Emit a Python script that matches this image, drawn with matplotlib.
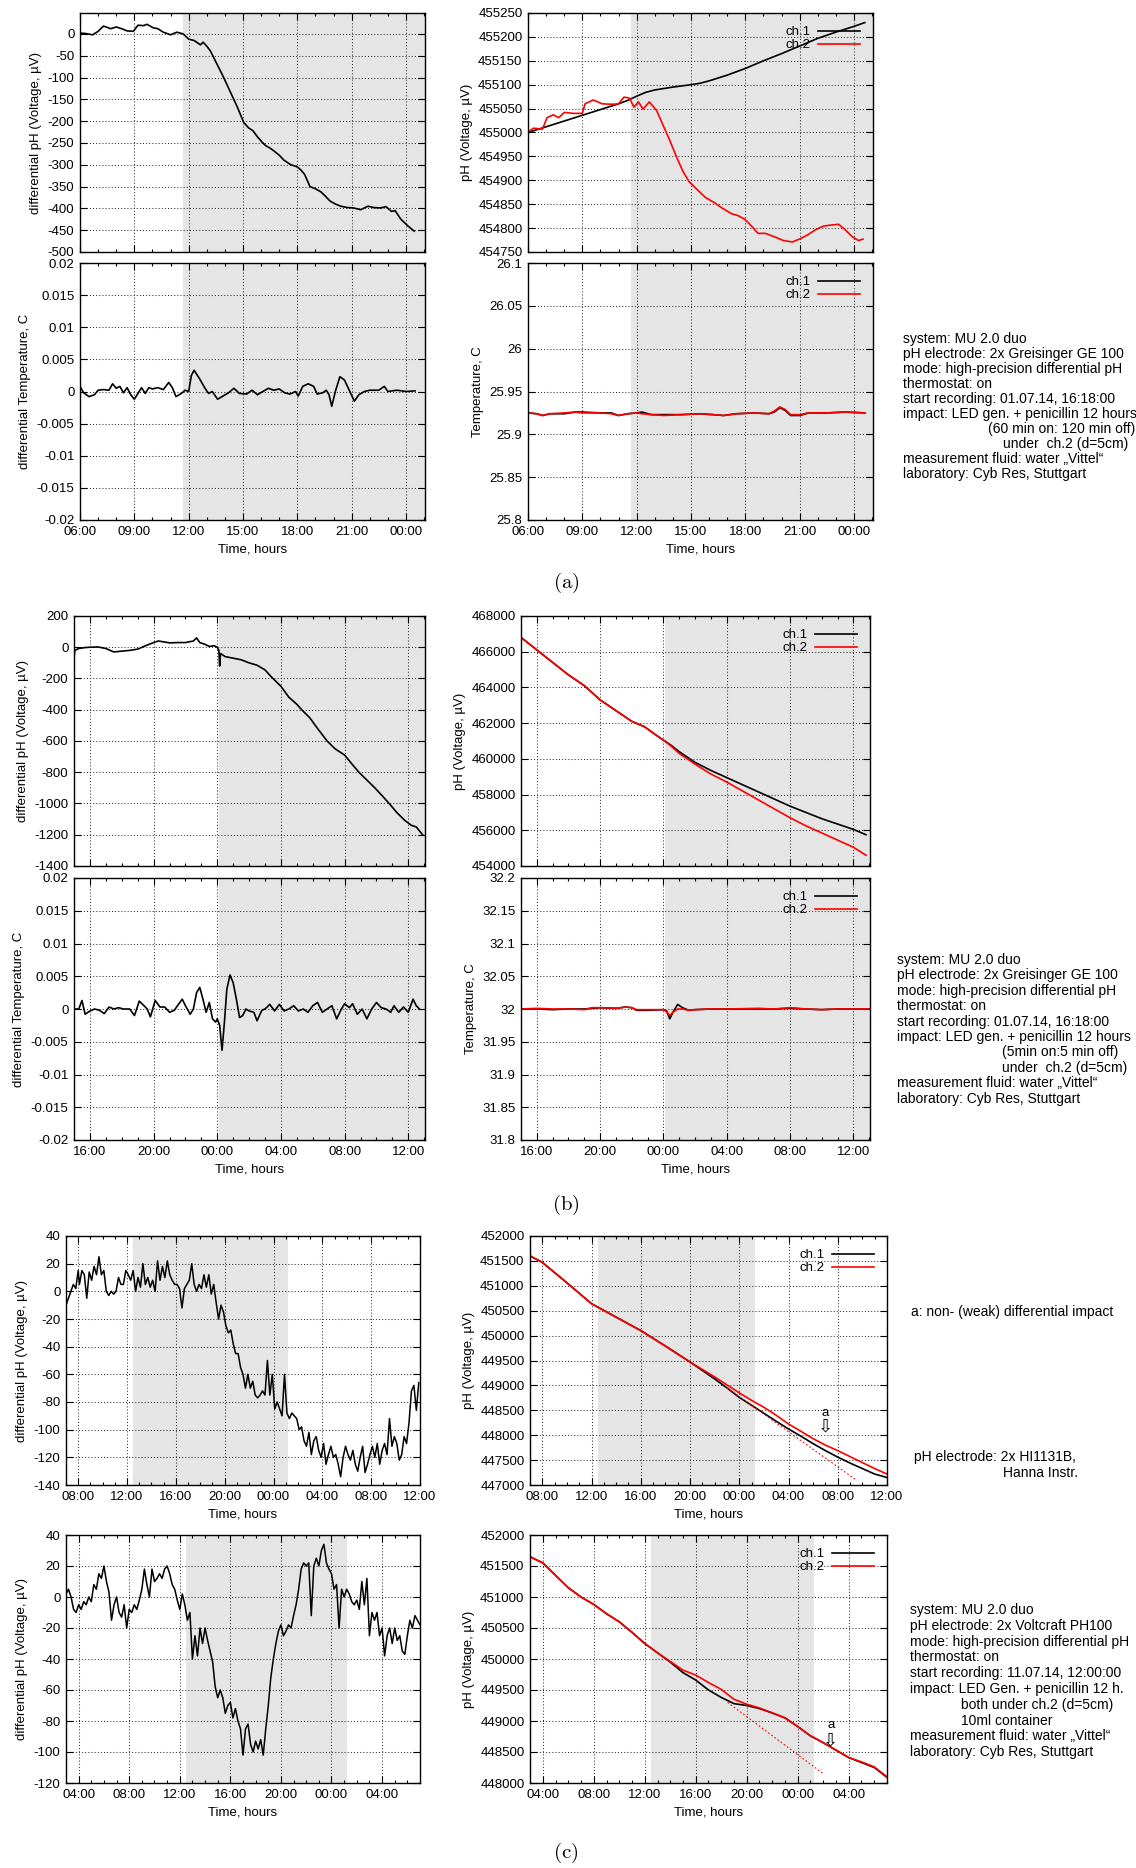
import numpy as np
import matplotlib
matplotlib.use('Agg')
import matplotlib.pyplot as plt
from matplotlib.ticker import MultipleLocator, FuncFormatter

plt.rcParams['font.family'] = ['Liberation Sans', 'DejaVu Sans']
plt.rcParams['axes.unicode_minus'] = False
plt.rcParams['mathtext.fontset'] = 'cm'

W, H = 1136, 1868
FS = 9.5      # ticks, axis labels, legends
FT = 10       # side notes
SHADE = '#e5e5e5'

#---------------------------------------------------------------------
# (a)  time in hours from 00:00 of day 1
a_t_dph = [6.0, 6.3, 6.7, 7.0, 7.3, 7.7, 8.0, 8.3, 8.6, 8.95, 9.2, 9.5, 9.7, 10.05, 10.3,
           10.6, 11.0, 11.35, 11.7, 12.0, 12.3, 12.65, 12.8, 13.0, 13.2, 13.55, 13.9, 14.3,
           14.67, 15.04, 15.3, 15.55, 15.8, 16.05, 16.25, 16.5, 16.7, 17.0, 17.25, 17.6, 18.0,
           18.2, 18.4, 18.7, 19.0, 19.3, 19.55, 19.8, 20.1, 20.4, 20.75, 21.1, 21.5, 21.9, 22.2,
           22.6, 22.9, 23.2, 23.4, 23.7, 24.1, 24.45]
a_dph = [2, 1, -2, 6, 18, 12, 16, 12, 7, 6, 20, 19, 22, 14, 12,
         4, -2, 4, 0, -12, -15, -25, -19, -28, -39, -68, -97, -133,
         -166, -203, -215, -222, -236, -248, -256, -262, -268, -278, -289, -299, -305,
         -312, -322, -350, -355, -362, -372, -383, -390, -395, -398, -399, -403, -395, -398,
         -399, -396, -407, -405, -424, -440, -452]

a_t_dT = [6.0, 6.2, 6.5, 6.8, 7.0, 7.3, 7.6, 7.8, 8.0, 8.2, 8.4, 8.6, 8.8, 9.0, 9.2,
          9.4, 9.6, 9.8, 10.0, 10.3, 10.6, 10.9, 11.1, 11.3, 11.6, 11.8, 12.0, 12.15, 12.3,
          12.6, 12.9, 13.1, 13.3, 13.6, 13.9, 14.2, 14.5, 14.8, 15.2, 15.5, 15.8, 16.1, 16.4,
          16.7, 17.0, 17.3, 17.6, 17.9, 18.05, 18.3, 18.6, 18.9, 19.1, 19.4, 19.6, 19.75,
          19.9, 20.1, 20.35, 20.6, 20.9, 21.15, 21.4, 21.7, 22.0, 22.5, 22.8, 23.0, 23.5,
          24.0, 24.5]
a_dT = [0.0008, -0.0002, -0.0008, -0.0005, 0.0002, 0.0003, 0.0002, 0.0012, 0.0005, 0.0008,
        -0.0002, 0.0006, -0.0005, -0.0012, -0.0003, 0.0006, -0.0003, 0.0006, 0.0004, 0.0006,
        0.0003, 0.0014, 0.0006, -0.0008, -0.0003, 0.0002, 0.0, 0.0025, 0.0033, 0.002,
        0.0005, -0.0003, 0.0, -0.0012, -0.0007, -0.0002, 0.0005, -0.0003, -0.0004, 0.0002,
        -0.0005, 0.0, 0.0005, 0.0002, 0.0004, -0.0002, -0.0004, 0.0, -0.0007, 0.0008,
        0.0012, 0.0008, -0.0004, -0.0002, 0.0002, -0.0005, -0.0023, 0.0, 0.0023, 0.0018,
        0.0, -0.0015, -0.0005, 0.0, 0.0002, 0.0002, 0.0008, 0.0, 0.0002, 0.0, 0.0001]

a_t_ph1 = [6.0, 7.0, 8.0, 9.0, 10.0, 11.0, 11.5, 12.0, 12.5, 13.0, 14.0, 15.0, 15.5, 16.0,
           17.0, 18.0, 19.0, 20.0, 21.0, 22.0, 23.0, 24.0, 24.6]
a_ph1 = [455000, 455012, 455024, 455036, 455048, 455060, 455067, 455076, 455084, 455089,
         455095, 455100, 455103, 455108, 455120, 455134, 455150, 455165, 455181, 455197,
         455210, 455222, 455230]
a_t_ph2 = [6.0, 6.3, 6.8, 7.05, 7.4, 7.7, 8.0, 8.5, 9.0, 9.15, 9.6, 10.1, 10.6, 11.0, 11.3,
           11.6, 11.85, 12.1, 12.35, 12.7, 13.1, 13.45, 13.8, 14.2, 14.55, 14.9, 15.3, 15.8,
           16.3, 16.75, 17.25, 17.6, 17.95, 18.35, 18.7, 19.1, 19.6, 20.1, 20.6, 21.05, 21.45,
           21.9, 22.3, 22.65, 23.15, 23.5, 23.9, 24.25, 24.5]
a_ph2 = [455001, 455009, 455007, 455031, 455037, 455031, 455042, 455040, 455040, 455060,
         455068, 455060, 455059, 455060, 455074, 455072, 455053, 455064, 455049, 455064,
         455046, 455016, 454986, 454949, 454919, 454897, 454882, 454864, 454853, 454841,
         454830, 454826, 454819, 454804, 454789, 454789, 454782, 454774, 454771, 454778,
         454786, 454797, 454804, 454806, 454808, 454797, 454782, 454774, 454777]

a_t_T = [6.0, 6.5, 6.8, 7.2, 8.0, 8.6, 9.0, 10.0, 10.6, 11.0, 11.5, 12.0, 12.3, 12.8, 13.5,
         14.5, 15.5, 16.2, 16.8, 17.5, 18.5, 19.3, 19.6, 19.9, 20.2, 20.5, 21.0, 21.5, 22.5,
         23.5, 24.6]
a_T1 = [25.925, 25.924, 25.922, 25.924, 25.924, 25.926, 25.926, 25.925, 25.925, 25.922,
        25.924, 25.925, 25.926, 25.923, 25.923, 25.923, 25.924, 25.923, 25.922, 25.924,
        25.925, 25.924, 25.926, 25.931, 25.928, 25.922, 25.922, 25.925, 25.925, 25.926, 25.925]
a_T2 = [25.925, 25.924, 25.922, 25.924, 25.925, 25.926, 25.925, 25.925, 25.924, 25.922,
        25.924, 25.925, 25.924, 25.923, 25.922, 25.923, 25.924, 25.923, 25.922, 25.924,
        25.925, 25.924, 25.927, 25.932, 25.929, 25.923, 25.923, 25.925, 25.925, 25.926, 25.925]

#---------------------------------------------------------------------
# (b)
b_t_dph = [15.0, 15.05, 15.3, 15.7, 16.0, 16.5, 17.0, 17.5, 18.0, 18.5, 19.0, 19.5, 20.0,
           20.3, 20.6, 21.0, 21.5, 22.0, 22.5, 22.7, 22.9, 23.2, 23.5, 23.8, 24.0, 24.1,
           24.15, 24.2, 24.5, 25.0, 25.5, 26.0, 26.5, 27.0, 27.4, 28.0, 28.5, 29.0, 29.3,
           29.8, 30.3, 30.9, 31.4, 32.0, 32.4, 32.9, 33.4, 33.9, 34.4, 34.8, 35.3, 35.8,
           36.2, 36.5, 36.9]
b_dph = [-70, -20, -8, -2, 0, 2, -8, -30, -25, -20, -12, 10, 30,
         40, 35, 28, 30, 30, 40, 60, 30, 20, 5, 10, 0, -20,
         -120, -40, -60, -70, -80, -100, -115, -145, -190, -250, -320, -365, -400,
         -450, -520, -600, -650, -690, -740, -800, -850, -900, -955, -1000, -1060, -1110,
         -1140, -1150, -1200]

b_t_dT = [15.0, 15.3, 15.5, 15.7, 16.0, 16.3, 16.6, 16.9, 17.2, 17.5, 17.8, 18.1, 18.5,
          18.8, 19.1, 19.4, 19.6, 19.8, 20.1, 20.4, 20.7, 21.0, 21.3, 21.5, 21.8, 22.0,
          22.3, 22.5, 22.7, 22.9, 23.1, 23.3, 23.5, 23.7, 23.9, 24.0, 24.15, 24.3, 24.45,
          24.6, 24.8, 25.0, 25.2, 25.4, 25.6, 25.8, 26.0, 26.3, 26.5, 26.8, 27.0, 27.3,
          27.6, 27.9, 28.2, 28.5, 28.8, 29.1, 29.4, 29.7, 30.0, 30.3, 30.6, 30.9, 31.2,
          31.5, 31.8, 32.0, 32.3, 32.5, 32.8, 33.1, 33.4, 33.7, 34.0, 34.3, 34.6, 34.9,
          35.1, 35.4, 35.7, 36.0, 36.3, 36.5, 36.7]
b_dT = [0.0, 0.0, 0.0013, -0.0008, -0.0003, 0.0, -0.0002, -0.0007, 0.0003, 0.0, 0.0002, 0.0,
        0.0, -0.001, 0.0012, 0.0005, 0.0, -0.0012, 0.0013, 0.0003, 0.0003, -0.0005, -0.0002,
        0.0005, 0.0015, 0.0005, -0.0008, 0.0, 0.0025, 0.0033, 0.0015, -0.0005, 0.001,
        -0.0015, -0.002, -0.0015, -0.0025, -0.0063, -0.002, 0.003, 0.0052, 0.004, 0.0015,
        -0.0013, -0.001, 0.0, -0.0003, -0.0005, -0.0018, -0.0002, 0.0, 0.0007, -0.0003,
        0.0007, -0.0003, 0.0, 0.0005, -0.0003, 0.0, -0.0005, 0.0005, 0.001, -0.0005, 0.0,
        0.0005, -0.0015, 0.0, 0.0008, 0.0002, 0.0008, -0.0008, 0.0, -0.0015, 0.0, 0.001,
        0.0002, 0.0, -0.0005, 0.0005, -0.0005, 0.0003, -0.0005, 0.0015, 0.0005, 0.0]

b_t_ph = [15.0, 16.0, 17.0, 18.0, 19.0, 20.0, 21.0, 22.0, 22.8, 23.5, 24.0, 24.5, 25.0,
          26.0, 27.0, 28.0, 29.0, 30.0, 31.0, 32.0, 33.0, 34.0, 35.0, 36.0, 36.8]
b_ph1 = [466800, 466100, 465400, 464700, 464100, 463300, 462700, 462100, 461800, 461350,
         461050, 460750, 460400, 459800, 459350, 458950, 458550, 458150, 457750, 457350,
         457000, 456650, 456350, 456050, 455750]
b_ph2 = [466800, 466100, 465400, 464700, 464100, 463300, 462700, 462100, 461800, 461350,
         461050, 460700, 460300, 459700, 459150, 458700, 458200, 457700, 457200, 456700,
         456250, 455850, 455450, 455050, 454600]

b_t_T = [15.0, 16.0, 17.0, 18.0, 19.0, 19.5, 20.0, 21.0, 21.6, 22.0, 22.3, 23.0, 24.0, 24.2,
         24.4, 24.6, 24.9, 25.2, 25.6, 26.0, 27.0, 28.0, 30.0, 31.0, 32.0, 33.0, 34.0, 35.0,
         36.0, 37.0]
b_T1 = [32.0, 32.0, 31.999, 32.0, 32.0, 32.001, 32.002, 32.001, 32.003, 32.002, 31.998,
        31.998, 31.999, 31.997, 31.985, 31.995, 32.007, 32.002, 31.998, 31.999, 32.0, 32.0,
        32.0, 32.0, 32.001, 32.0, 31.999, 32.0, 32.0, 32.0]
b_T2 = [32.0, 32.001, 32.0, 32.0, 31.999, 32.002, 32.002, 32.001, 32.003, 32.002, 31.999,
        31.999, 31.999, 31.996, 31.99, 31.995, 32.0, 32.0, 31.998, 31.999, 32.0, 32.0,
        32.001, 32.0, 32.002, 32.0, 31.999, 32.0, 32.0, 32.0]

#---------------------------------------------------------------------
# (c) upper run: HI1131B electrodes
c1_t = [7.0, 7.2, 7.4, 7.6, 7.8, 8.0,
        8.1, 8.3, 8.5, 8.7, 8.9, 9.1, 9.3, 9.5, 9.7, 9.9,
        10.1, 10.3, 10.5, 10.7, 10.9, 11.1, 11.3, 11.5, 11.7, 11.9,
        12.1, 12.3, 12.5, 12.7, 12.9, 13.1, 13.3, 13.5, 13.7, 13.9,
        14.1, 14.3, 14.5, 14.7, 14.9, 15.1, 15.3, 15.5, 15.7, 15.9,
        16.1, 16.3, 16.5, 16.7, 16.9, 17.1, 17.3, 17.5, 17.7, 17.9,
        18.1, 18.3, 18.5, 18.7, 18.9, 19.1, 19.3, 19.5, 19.7, 19.9,
        20.1, 20.3, 20.5, 20.7, 20.9, 21.1, 21.3, 21.5, 21.7, 21.9,
        22.1, 22.3, 22.5, 22.7, 22.9, 23.1, 23.3, 23.5, 23.7, 23.9,
        24.1, 24.3, 24.5, 24.7, 24.9, 25.1, 25.3, 25.5, 25.7, 25.9,
        26.1, 26.3, 26.5, 26.7, 26.9, 27.1, 27.3, 27.5, 27.7, 27.9,
        28.1, 28.3, 28.5, 28.7, 28.9, 29.1, 29.3, 29.5, 29.7, 29.9,
        30.1, 30.3, 30.5, 30.7, 30.9, 31.1, 31.3, 31.5, 31.7, 31.9,
        32.1, 32.3, 32.5, 32.7, 32.9, 33.1, 33.3, 33.5, 33.7, 33.9,
        34.1, 34.3, 34.5, 34.7, 34.9, 35.1, 35.3, 35.5, 35.7, 35.9]
c1_dph = [-10, -5, 0, 5, 2, 15,
          5, 15, 12, -5, 14, 8, 18, 12, 25, 12,
          15, 0, -3, 0, -2, 0, 10, 5, 5, 15,
          12, 8, 15, 0, 10, 3, 20, 5, 10, 3,
          8, 0, 22, 8, 18, 10, 22, 12, 8, 5,
          5, 2, -12, 2, 5, 8, 20, 5, 0, 5,
          2, 12, 3, 12, -2, 5, -8, -20, -10, -15,
          -25, -30, -28, -38, -45, -45, -55, -60, -70, -60,
          -70, -65, -75, -77, -75, -72, -75, -50, -75, -60,
          -85, -80, -85, -90, -60, -88, -92, -88, -90, -92,
          -100, -98, -108, -112, -102, -118, -108, -105, -115, -120,
          -110, -125, -118, -112, -120, -118, -125, -134, -120, -112,
          -118, -122, -115, -125, -130, -120, -112, -131, -125, -118,
          -112, -120, -110, -125, -115, -110, -118, -92, -112, -105,
          -110, -122, -118, -105, -110, -95, -72, -68, -86, -66]

c3_t = [7.0, 8.0, 10.0, 12.0, 14.0, 16.0, 18.0, 20.0, 21.0, 22.0, 23.0, 24.0, 25.0, 26.0,
        27.0, 28.0, 29.0, 30.0, 31.0, 32.0, 33.0, 34.0, 35.0, 36.0]
c3_ph1 = [451600, 451470, 451060, 450640, 450370, 450100, 449790, 449470, 449300, 449130,
          448950, 448760, 448600, 448440, 448280, 448125, 447980, 447830, 447690, 447560,
          447440, 447330, 447220, 447150]
c3_ph2 = [451600, 451470, 451060, 450640, 450370, 450100, 449790, 449470, 449320, 449170,
          449010, 448850, 448700, 448560, 448400, 448225, 448080, 447930, 447800, 447690,
          447570, 447450, 447330, 447220]
c3_fit_t = [23.0, 33.5]
c3_fit = [448950, 447100]
c3_mark = (31.0, 448440, 448170)   # time, 'a' label, arrow

# (c) lower run: Voltcraft PH100 electrodes
c2_t = [3.0, 3.2, 3.4, 3.6, 3.8, 4.0, 4.2, 4.4, 4.6, 4.8,
        5.0, 5.2, 5.4, 5.6, 5.8, 6.0, 6.2, 6.4, 6.6, 6.8,
        7.0, 7.2, 7.4, 7.6, 7.8, 8.0, 8.2, 8.4, 8.6, 8.8,
        9.0, 9.2, 9.4, 9.6, 9.8, 10.0, 10.2, 10.4, 10.6, 10.8,
        11.0, 11.2, 11.4, 11.6, 11.8, 12.0, 12.2, 12.4, 12.6, 12.8,
        13.0, 13.2, 13.4, 13.6, 13.8, 14.0, 14.2, 14.4, 14.6, 14.8,
        15.0, 15.2, 15.4, 15.6, 15.8, 16.0, 16.2, 16.4, 16.6, 16.8,
        17.0, 17.2, 17.4, 17.6, 17.8, 18.0, 18.2, 18.4, 18.6, 18.8,
        19.0, 19.2, 19.4, 19.6, 19.8, 20.0, 20.2, 20.4, 20.6, 20.8,
        21.0, 21.2, 21.4, 21.6, 21.8, 22.0, 22.2, 22.4, 22.6, 22.8,
        23.0, 23.2, 23.4, 23.6, 23.8, 24.0, 24.2, 24.4, 24.6, 24.8,
        25.0, 25.2, 25.4, 25.6, 25.8, 26.0, 26.2, 26.4, 26.6, 26.8,
        27.0, 27.2, 27.4, 27.6, 27.8, 28.0, 28.2, 28.4, 28.6, 28.8,
        29.0, 29.2, 29.4, 29.6, 29.8, 30.0, 30.2, 30.4, 30.6, 30.8,
        31.0]
c2_dph = [2, 5, 0, -8, -10, -5, -8, -3, -5, 0,
          -3, 8, 5, 15, 12, 20, 10, 3, -15, -5,
          0, -10, -13, -5, -20, -8, -10, -5, -8, -2,
          5, 18, 8, 0, 18, 10, 12, 15, 12, 18,
          20, 15, 8, 5, -2, -8, 2, -5, -15, -10,
          -40, -25, -38, -20, -30, -20, -28, -35, -42, -58,
          -65, -60, -65, -75, -70, -68, -78, -72, -80, -85,
          -102, -85, -82, -95, -100, -93, -98, -92, -102, -85,
          -70, -52, -40, -30, -22, -18, -25, -22, -18, -20,
          -12, -5, 5, 18, 22, 20, 22, -12, 20, 25,
          20, 30, 34, 22, 18, 15, 5, 8, -20, 5,
          0, 5, 2, -3, -5, -2, -8, 10, -5, 12,
          -25, -10, -15, -10, -25, -20, -38, -25, -20, -30,
          -20, -28, -25, -35, -37, -25, -15, -20, -12, -15,
          -18]

c4_t = [3.0, 4.0, 5.0, 6.0, 7.0, 8.0, 9.0, 10.0, 11.0, 12.0, 13.0, 14.0, 15.0, 16.0, 17.0,
        18.0, 19.0, 20.0, 21.0, 22.0, 23.0, 24.0, 25.0, 26.0, 27.0, 28.0, 29.0, 30.0, 31.0]
c4_ph1 = [451650, 451550, 451350, 451150, 451000, 450880, 450730, 450600, 450430, 450250,
          450100, 449950, 449780, 449660, 449500, 449380, 449280, 449250, 449200, 449130,
          449050, 448910, 448760, 448650, 448530, 448410, 448330, 448250, 448090]
c4_ph2 = [451650, 451550, 451350, 451150, 451000, 450880, 450730, 450600, 450430, 450250,
          450100, 449960, 449820, 449740, 449620, 449510, 449350, 449270, 449210, 449130,
          449050, 448910, 448760, 448650, 448530, 448410, 448340, 448260, 448100]
c4_fit_t = [18.5, 26.0]
c4_fit = [449300, 448150]
c4_mark = (26.6, 448930, 448680)

#---------------------------------------------------------------------
txt_a = [("system: MU 2.0 duo", 0),
         ("pH electrode: 2x Greisinger GE 100", 0),
         ("mode: high-precision differential pH", 0),
         ("thermostat: on", 0),
         ("start recording: 01.07.14, 16:18:00", 0),
         ("impact: LED gen. + penicillin 12 hours", 0),
         ("(60 min on: 120 min off)", 85),
         ("under  ch.2 (d=5cm)", 100),
         ("measurement fluid: water \u201eVittel\u201c", 0),
         ("laboratory: Cyb Res, Stuttgart", 0)]
txt_b = [("system: MU 2.0 duo", 0),
         ("pH electrode: 2x Greisinger GE 100", 0),
         ("mode: high-precision differential pH", 0),
         ("thermostat: on", 0),
         ("start recording: 01.07.14, 16:18:00", 0),
         ("impact: LED gen. + penicillin 12 hours", 0),
         ("(5min on:5 min off)", 105),
         ("under  ch.2 (d=5cm)", 105),
         ("measurement fluid: water \u201eVittel\u201c", 0),
         ("laboratory: Cyb Res, Stuttgart", 0)]
txt_c = [("system: MU 2.0 duo", 0),
         ("pH electrode: 2x Voltcraft PH100", 0),
         ("mode: high-precision differential pH", 0),
         ("thermostat: on", 0),
         ("start recording: 11.07.14, 12:00:00", 0),
         ("impact: LED Gen. + penicillin 12 h.", 0),
         ("both under ch.2 (d=5cm)", 51),
         ("10ml container", 51),
         ("measurement fluid: water \u201eVittel\u201c", 0),
         ("laboratory: Cyb Res, Stuttgart", 0)]


def box(l, t, r, b):
    return [l / W, 1 - b / H, (r - l) / W, (b - t) / H]


def hours_fmt(v, pos):
    return '%02d:00' % (int(round(v)) % 24)


def num_fmt(v, pos):
    return '%g' % (round(v, 8) + 0.0)


def setup(ax, xlim, xstep, ylim, ystep, shade, xlabels=True):
    ax.axvspan(shade[0], shade[1], color=SHADE, lw=0, zorder=0)
    ax.set_xlim(xlim)
    ax.set_ylim(ylim)
    ax.xaxis.set_major_locator(MultipleLocator(xstep))
    ax.xaxis.set_minor_locator(MultipleLocator(1))
    ax.yaxis.set_major_locator(MultipleLocator(ystep))
    ax.xaxis.set_major_formatter(FuncFormatter(hours_fmt))
    ax.yaxis.set_major_formatter(FuncFormatter(num_fmt))
    ax.tick_params(which='both', direction='in', top=True, right=True, labelsize=FS)
    ax.tick_params(which='major', length=5, width=0.8, pad=4)
    ax.tick_params(which='minor', length=2.5, width=0.8)
    ax.grid(True, which='major', color='#333333', linestyle=(0, (1, 2)), lw=0.75)
    ax.set_axisbelow(True)
    for s in ax.spines.values():
        s.set_linewidth(1.0)
    if xlabels:
        ax.set_xlabel('Time, hours', fontsize=FS, labelpad=4)
    else:
        ax.tick_params(labelbottom=False)


def two_ch(ax, t1, y1, t2, y2):
    ax.plot(t1, y1, color='black', lw=1.2, label='ch.1')
    ax.plot(t2, y2, color='red', lw=1.2, label='ch.2')
    ax.legend(loc='upper right', frameon=False, markerfirst=False, fontsize=FS,
              handlelength=3.2, handletextpad=0.5, labelspacing=0.05, borderaxespad=0.6)


def text_block(x, y0, dy, lines):
    for i, (s, ind) in enumerate(lines):
        fig.text((x + ind) / W, 1 - (y0 + i * dy) / H, s, fontsize=FT, va='center', ha='left')


def mark(ax, m):
    ax.text(m[0], m[1], 'a', fontsize=FS, ha='center', va='center')
    ax.text(m[0], m[2], '\u21e9', fontsize=13, ha='center', va='center',
            family='DejaVu Sans')


fig = plt.figure(figsize=(W / 100, H / 100), dpi=100)

#----- (a) -----
ax = fig.add_axes(box(80, 13, 425, 252))
setup(ax, (6, 25.05), 3, (-500, 48), 50, (11.7, 25.05), xlabels=False)
ax.plot(a_t_dph, a_dph, color='black', lw=1.2)
ax.set_ylabel(r'differential pH (Voltage, µV)', fontsize=FS)

ax = fig.add_axes(box(80, 263, 425, 520))
setup(ax, (6, 25.05), 3, (-0.02, 0.02), 0.005, (11.7, 25.05))
ax.plot(a_t_dT, a_dT, color='black', lw=1.2)
ax.set_ylabel('differential Temperature, C', fontsize=FS)

ax = fig.add_axes(box(528, 13, 873, 252))
setup(ax, (6, 25.05), 3, (454750, 455250), 50, (11.7, 25.05), xlabels=False)
two_ch(ax, a_t_ph1, a_ph1, a_t_ph2, a_ph2)
ax.set_ylabel(r'pH (Voltage, µV)', fontsize=FS)

ax = fig.add_axes(box(528, 263, 873, 520))
setup(ax, (6, 25.05), 3, (25.8, 26.1), 0.05, (11.7, 25.05))
two_ch(ax, a_t_T, a_T1, a_t_T, a_T2)
ax.set_ylabel('Temperature, C', fontsize=FS)

text_block(903, 339, 15.0, txt_a)
fig.text(566 / W, 1 - 583 / H, r'$(\mathrm{a})$', fontsize=15, ha='center', va='center')

#----- (b) -----
ax = fig.add_axes(box(74, 616, 425, 866))
setup(ax, (15, 37.05), 4, (-1400, 200), 200, (24.1, 37.05), xlabels=False)
ax.plot(b_t_dph, b_dph, color='black', lw=1.2)
ax.set_ylabel(r'differential pH (Voltage, µV)', fontsize=FS)

ax = fig.add_axes(box(74, 878, 425, 1140))
setup(ax, (15, 37.05), 4, (-0.02, 0.02), 0.005, (24.1, 37.05))
ax.plot(b_t_dT, b_dT, color='black', lw=1.2)
ax.set_ylabel('differential Temperature, C', fontsize=FS)

ax = fig.add_axes(box(521, 616, 870, 866))
setup(ax, (15, 37.05), 4, (454000, 468000), 2000, (24.1, 37.05), xlabels=False)
two_ch(ax, b_t_ph, b_ph1, b_t_ph, b_ph2)
ax.set_ylabel(r'pH (Voltage, µV)', fontsize=FS)

ax = fig.add_axes(box(521, 878, 870, 1140))
setup(ax, (15, 37.05), 4, (31.8, 32.2), 0.05, (24.1, 37.05))
two_ch(ax, b_t_T, b_T1, b_t_T, b_T2)
ax.set_ylabel('Temperature, C', fontsize=FS)

text_block(897, 960, 15.4, txt_b)
fig.text(566 / W, 1 - 1205 / H, r'$(\mathrm{b})$', fontsize=15, ha='center', va='center')

#----- (c) -----
ax = fig.add_axes(box(66, 1236, 420, 1485))
setup(ax, (7, 36), 4, (-140, 40), 20, (12.5, 25.2))
ax.plot(c1_t, c1_dph, color='black', lw=1.1)
ax.set_ylabel(r'differential pH (Voltage, µV)', fontsize=FS)

ax = fig.add_axes(box(66, 1535, 420, 1783))
setup(ax, (3, 31), 4, (-120, 40), 20, (12.5, 25.2))
ax.plot(c2_t, c2_dph, color='black', lw=1.1)
ax.set_ylabel(r'differential pH (Voltage, µV)', fontsize=FS)

ax = fig.add_axes(box(530, 1236, 887, 1485))
setup(ax, (7, 36), 4, (447000, 452000), 500, (12.5, 25.3))
two_ch(ax, c3_t, c3_ph1, c3_t, c3_ph2)
ax.plot(c3_fit_t, c3_fit, color='red', lw=0.8, linestyle=(0, (1.5, 2)))
mark(ax, c3_mark)
ax.set_ylabel(r'pH (Voltage, µV)', fontsize=FS)

ax = fig.add_axes(box(530, 1535, 887, 1783))
setup(ax, (3, 31), 4, (448000, 452000), 500, (12.5, 25.3))
two_ch(ax, c4_t, c4_ph1, c4_t, c4_ph2)
ax.plot(c4_fit_t, c4_fit, color='red', lw=0.8, linestyle=(0, (1.5, 2)))
mark(ax, c4_mark)
ax.set_ylabel(r'pH (Voltage, µV)', fontsize=FS)

fig.text(911 / W, 1 - 1312 / H, 'a: non- (weak) differential impact', fontsize=FT, va='center')
fig.text(914 / W, 1 - 1457 / H, 'pH electrode: 2x HI1131B,', fontsize=FT, va='center')
fig.text(1003 / W, 1 - 1473 / H, 'Hanna Instr.', fontsize=FT, va='center')
text_block(910, 1610, 15.8, txt_c)
fig.text(566 / W, 1 - 1853 / H, r'$(\mathrm{c})$', fontsize=15, ha='center', va='center')

fig.savefig('out.png', dpi=100)
